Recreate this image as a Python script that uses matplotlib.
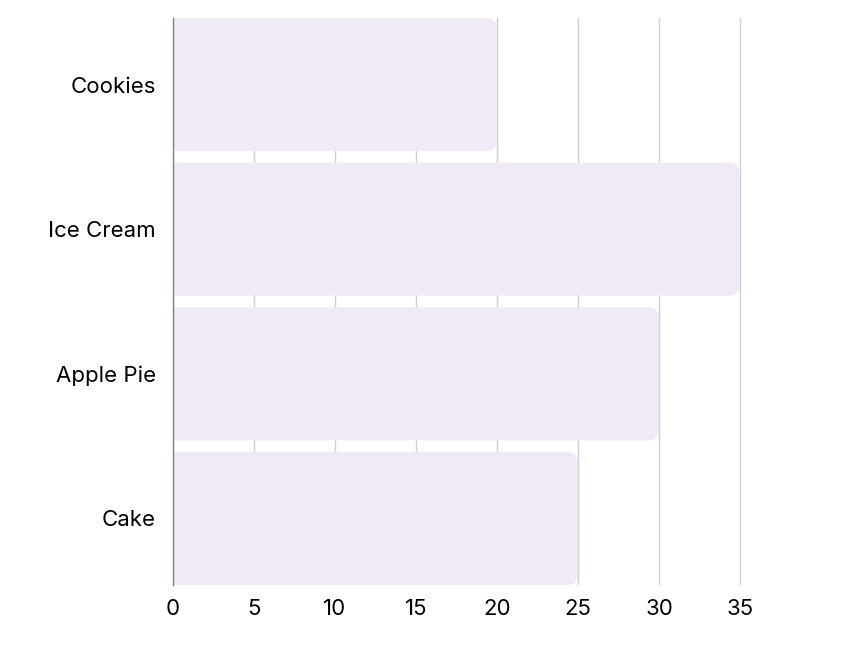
import matplotlib.pyplot as plt
from matplotlib.path import Path
from matplotlib.patches import PathPatch

plt.rcParams['font.family'] = ['Inter', 'DejaVu Sans']

desserts = ['Cookies', 'Ice Cream', 'Apple Pie', 'Cake']
votes = [20, 35, 30, 25]
ticks = [0, 5, 10, 15, 20, 25, 30, 35]

bar_color = '#f0eaf7'


def rounded_right(x0, y0, w, h, rx, ry):
    # rectangle with only the right-hand corners rounded
    k = 0.55
    x1, y1 = x0 + w, y0 + h
    verts = [
        (x0, y0), (x1 - rx, y0),
        (x1 - rx + k * rx, y0), (x1, y0 + ry - k * ry), (x1, y0 + ry),
        (x1, y1 - ry),
        (x1, y1 - ry + k * ry), (x1 - rx + k * rx, y1), (x1 - rx, y1),
        (x0, y1), (x0, y0),
    ]
    codes = [Path.MOVETO, Path.LINETO,
             Path.CURVE4, Path.CURVE4, Path.CURVE4,
             Path.LINETO,
             Path.CURVE4, Path.CURVE4, Path.CURVE4,
             Path.LINETO, Path.CLOSEPOLY]
    return Path(verts, codes)


fig = plt.figure(figsize=(8.54, 6.47), dpi=100)
# x range 0..38 so the 35 gridline is not cut at the axes edge
ax = fig.add_axes([0.2026, 0.0958, 0.7209, 0.8764])

ypos = list(range(len(desserts)))[::-1]
bars = ax.barh(ypos, votes, height=0.92, color='none')
for b in bars:
    x, y, w, h = b.get_x(), b.get_y(), b.get_width(), b.get_height()
    p = PathPatch(rounded_right(x, y, w, h, 0.6, 0.07),
                  facecolor=bar_color, edgecolor='none', zorder=2)
    ax.add_patch(p)
    b.remove()

ax.set_xlim(0, 38)
ax.set_ylim(-0.46, 3.46)
ax.set_xticks(ticks)
ax.set_yticks(ypos)
ax.set_yticklabels(desserts)

ax.grid(axis='x', color='#cfcfcf', linewidth=1.0)
ax.set_axisbelow(True)
for s in ['top', 'right', 'bottom']:
    ax.spines[s].set_visible(False)
ax.spines['left'].set_color('#808080')
ax.spines['left'].set_linewidth(1.0)
ax.spines['left'].set_zorder(3)

ax.tick_params(axis='both', length=0, labelsize=16, colors='black')
ax.tick_params(axis='x', pad=10)
ax.tick_params(axis='y', pad=12.5)

fig.savefig('out.png', dpi=100)
